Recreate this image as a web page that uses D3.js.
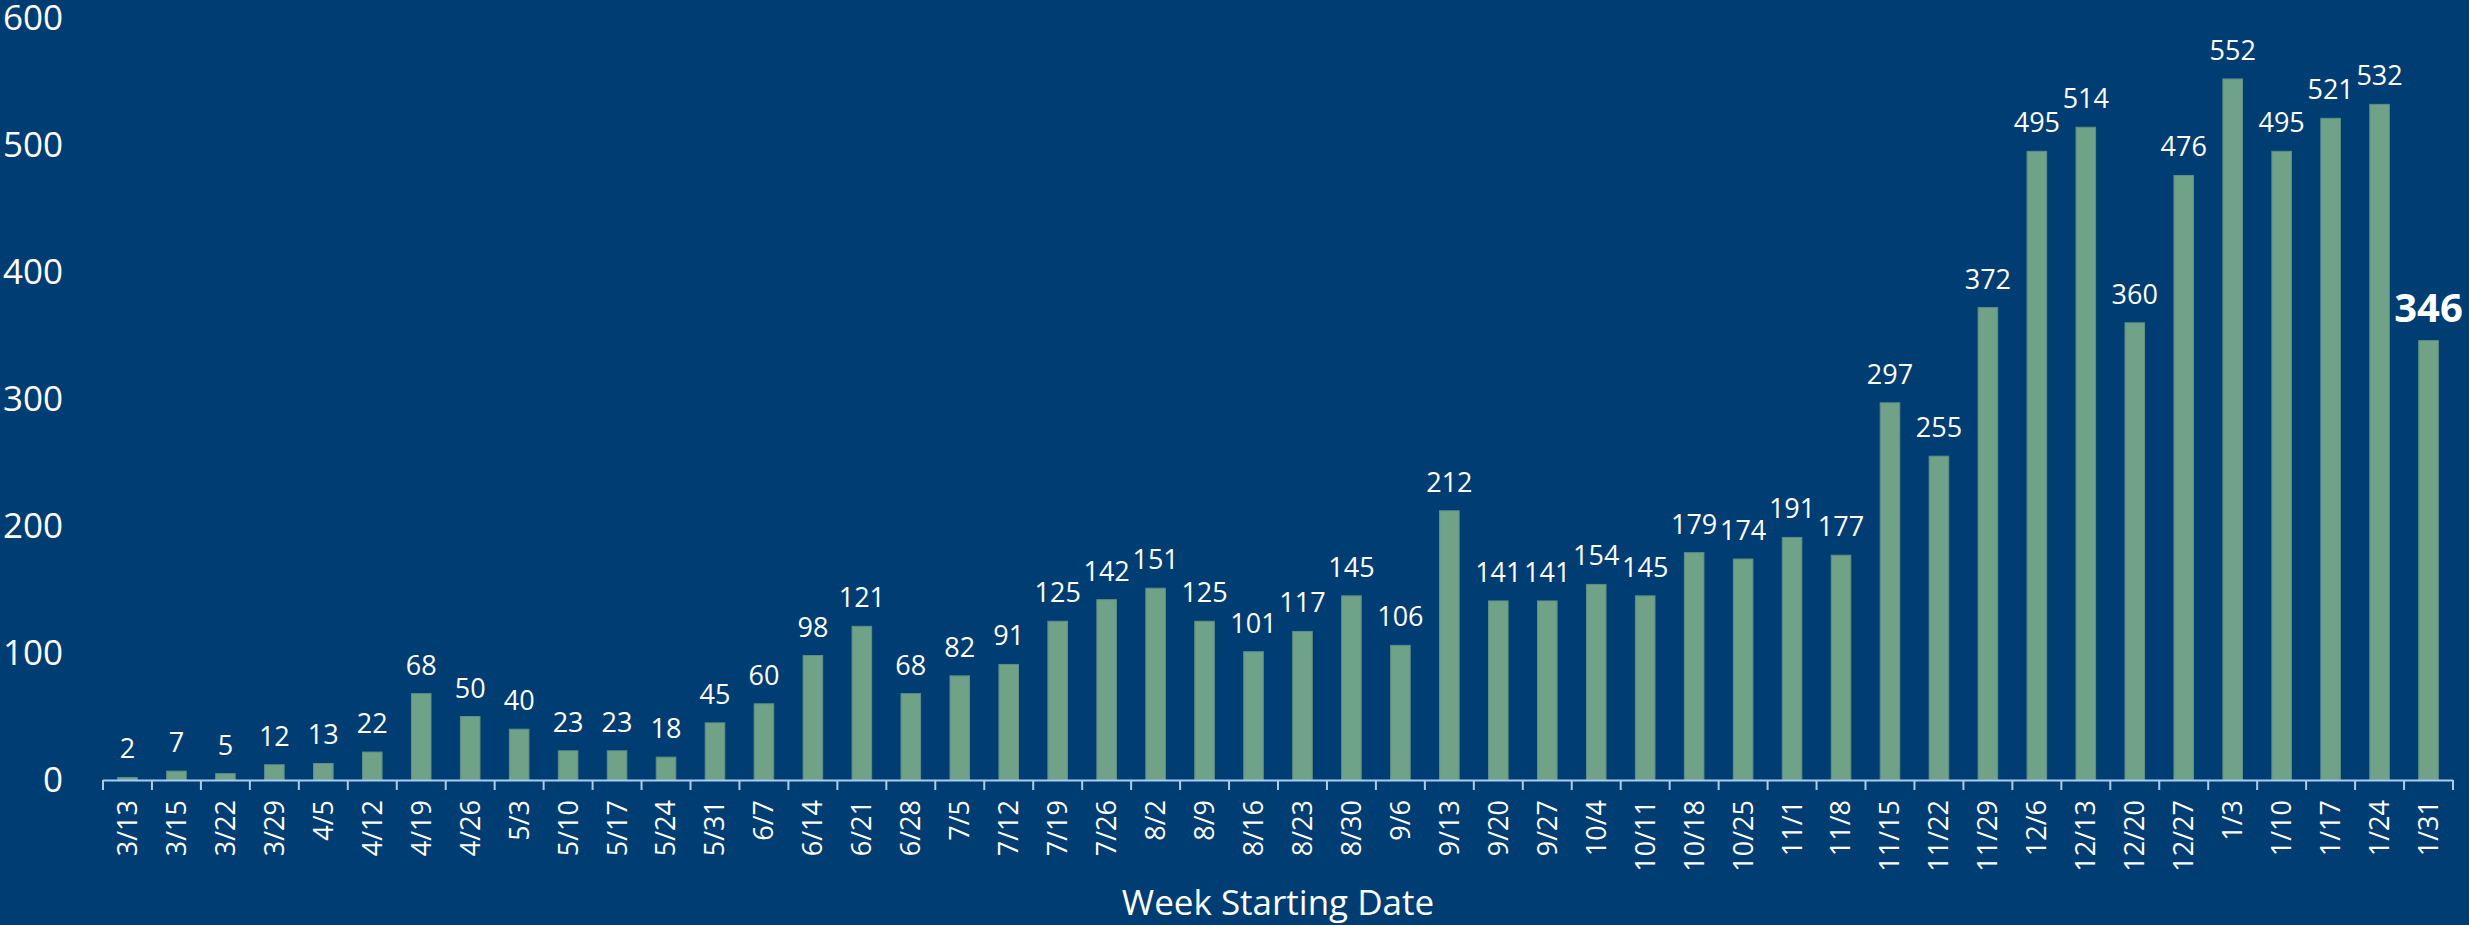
<!DOCTYPE html>
<meta charset="utf-8">
<style>
    body { margin: 0; background: #003d73; }
    text { font-family: "Open Sans", sans-serif; fill: #fff; }
</style>
<svg width="2469" height="925"></svg>
<script src="https://d3js.org/d3.v7.min.js"></script>
<script>

    var weeks = ["3/13", "3/15", "3/22", "3/29", "4/5", "4/12", "4/19", "4/26", "5/3", "5/10",
        "5/17", "5/24", "5/31", "6/7", "6/14", "6/21", "6/28", "7/5", "7/12", "7/19",
        "7/26", "8/2", "8/9", "8/16", "8/23", "8/30", "9/6", "9/13", "9/20", "9/27",
        "10/4", "10/11", "10/18", "10/25", "11/1", "11/8", "11/15", "11/22", "11/29", "12/6",
        "12/13", "12/20", "12/27", "1/3", "1/10", "1/17", "1/24", "1/31"];

    var counts = [2, 7, 5, 12, 13, 22, 68, 50, 40, 23,
        23, 18, 45, 60, 98, 121, 68, 82, 91, 125,
        142, 151, 125, 101, 117, 145, 106, 212, 141, 141,
        154, 145, 179, 174, 191, 177, 297, 255, 372, 495,
        514, 360, 476, 552, 495, 521, 532, 346];

    var yTicks = [0, 100, 200, 300, 400, 500, 600];

    var svg = d3.select("svg");
    svg.append("rect").attr("width", 2469).attr("height", 925).attr("fill", "#003d73");

    var x = d3.scaleBand().domain(weeks).range([103, 2453]).paddingInner(0.6).paddingOuter(0.3);
    var y = d3.scaleLinear().domain([0, 600]).range([780, 18]);

    var last = weeks[weeks.length - 1];

    // bars
    svg.append("g").selectAll("rect")
        .data(weeks)
        .join("rect")
        .attr("x", d => x(d))
        .attr("y", (d, i) => y(counts[i]))
        .attr("width", x.bandwidth())
        .attr("height", (d, i) => y(0) - y(counts[i]))
        .attr("fill", "#70a288")
        .attr("stroke", "#5f8f86")
        .attr("stroke-width", 1);

    // value labels
    svg.append("g").selectAll("text")
        .data(weeks)
        .join("text")
        .attr("x", d => x(d) + x.bandwidth() / 2)
        .attr("y", (d, i) => y(counts[i]) - 19)
        .attr("text-anchor", "middle")
        .style("font-size", d => d === last ? "40px" : "27px")
        .style("font-weight", d => d === last ? "bold" : "normal")
        .text((d, i) => counts[i]);

    // y axis labels only
    svg.append("g").selectAll("text")
        .data(yTicks)
        .join("text")
        .attr("x", 63)
        .attr("y", d => y(d))
        .attr("dy", "0.35em")
        .attr("text-anchor", "end")
        .style("font-size", "35px")
        .text(d => d);

    // x axis with ticks on category boundaries
    var axisColor = "#a9cdee";
    var xg = svg.append("g");
    xg.append("line")
        .attr("x1", 103).attr("x2", 2453)
        .attr("y1", 780.5).attr("y2", 780.5)
        .attr("stroke", axisColor).attr("stroke-width", 2);
    var step = x.step();
    xg.selectAll("line.tick")
        .data(d3.range(weeks.length + 1))
        .join("line")
        .attr("class", "tick")
        .attr("x1", i => 103 + i * (2350 / weeks.length))
        .attr("x2", i => 103 + i * (2350 / weeks.length))
        .attr("y1", 780).attr("y2", 790)
        .attr("stroke", axisColor).attr("stroke-width", 2);

    xg.selectAll("text")
        .data(weeks)
        .join("text")
        .attr("transform", d => "translate(" + (x(d) + x.bandwidth() / 2) + ",800) rotate(-90)")
        .attr("dy", "0.35em")
        .attr("text-anchor", "end")
        .style("font-size", "27px")
        .text(d => d);

    svg.append("text")
        .attr("x", 1278)
        .attr("y", 915)
        .attr("text-anchor", "middle")
        .style("font-size", "35px")
        .text("Week Starting Date");

</script>
